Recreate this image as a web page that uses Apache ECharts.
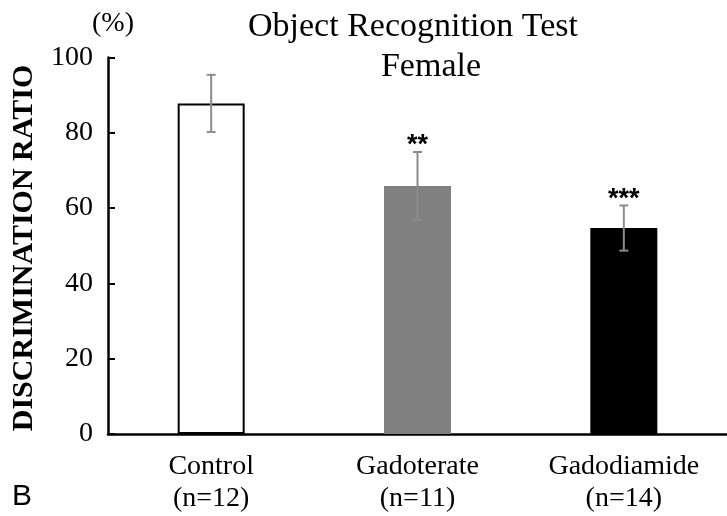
<!DOCTYPE html>
<html><head><meta charset="utf-8">
<script src="https://cdn.jsdelivr.net/npm/echarts@6/dist/echarts.min.js"></script>
<style>html,body{margin:0;padding:0;background:#fff}#c{width:727px;height:516px}</style>
</head><body><div id="c"></div>
<script>
var categories = ['Control', 'Gadoterate', 'Gadodiamide'];
var groupSizes = ['(n=12)', '(n=11)', '(n=14)'];
var means = [87.8, 65.9, 54.7];
var errors = [7.6, 9.0, 6.0];
var stars = ['', '**', '***'];
var yTicks = [0, 20, 40, 60, 80, 100];
var barColors = ['#ffffff', '#808080', '#000000'];

var serif = '"Liberation Serif", "Times New Roman", serif';
var chart = echarts.init(document.getElementById('c'));
var errData = categories.map(function (c, i) { return [i, means[i] - errors[i], means[i] + errors[i], stars[i]]; });

chart.setOption({
  animation: false,
  grid: { left: 108, width: 624, top: 57.5, bottom: 82 },
  xAxis: {
    type: 'category',
    data: categories.map(function (c, i) { return c + '\n' + groupSizes[i]; }),
    axisLine: { lineStyle: { color: '#000', width: 2.5 } },
    axisTick: { show: false },
    axisLabel: { color: '#000', fontFamily: serif, fontSize: 28, lineHeight: 32, margin: 17 }
  },
  yAxis: {
    type: 'value', min: yTicks[0], max: yTicks[yTicks.length - 1], interval: 20,
    axisLine: { show: true, lineStyle: { color: '#000', width: 2.5 } },
    axisTick: { show: true, inside: true, length: 7, lineStyle: { color: '#000', width: 2 } },
    splitLine: { show: false },
    axisLabel: { color: '#000', fontFamily: serif, fontSize: 28, margin: 15 }
  },
  series: [
    {
      type: 'bar', barWidth: 67,
      data: means.map(function (v, i) {
        return { value: v, itemStyle: { color: barColors[i], borderColor: '#000', borderWidth: i === 0 ? 2 : 0 } };
      })
    },
    {
      type: 'custom', data: errData, z: 5,
      renderItem: function (params, api) {
        var x = api.value(0);
        var lo = api.coord([x, api.value(1)]);
        var hi = api.coord([x, api.value(2)]);
        var cw = 4.5;
        var st = { stroke: '#8c8c8c', lineWidth: 2 };
        var children = [
          { type: 'line', shape: { x1: lo[0], y1: lo[1], x2: hi[0], y2: hi[1] }, style: st },
          { type: 'line', shape: { x1: lo[0] - cw, y1: lo[1], x2: lo[0] + cw, y2: lo[1] }, style: st },
          { type: 'line', shape: { x1: hi[0] - cw, y1: hi[1], x2: hi[0] + cw, y2: hi[1] }, style: st }
        ];
        var s = api.value(3);
        if (s) {
          children.push({ type: 'text', x: hi[0], y: hi[1] - 6,
            style: { text: s, fill: '#000', fontSize: 27, fontWeight: 'bold', fontFamily: '"Liberation Sans", Arial, sans-serif', align: 'center', verticalAlign: 'middle' } });
        }
        return { type: 'group', children: children };
      }
    }
  ],
  graphic: [
    { type: 'text', x: 413, y: 27, style: { text: 'Object Recognition Test', fill: '#000', fontFamily: serif, fontSize: 34, align: 'center', verticalAlign: 'middle' } },
    { type: 'text', x: 431, y: 67, style: { text: 'Female', fill: '#000', fontFamily: serif, fontSize: 34, align: 'center', verticalAlign: 'middle' } },
    { type: 'text', x: 113, y: 24, style: { text: '(%)', fill: '#000', fontFamily: serif, fontSize: 28, align: 'center', verticalAlign: 'middle' } },
    { type: 'text', x: 24, y: 248, rotation: Math.PI / 2, style: { text: 'DISCRIMINATION RATIO', fill: '#000', fontFamily: serif, fontWeight: 'bold', fontSize: 30, align: 'center', verticalAlign: 'middle' } },
    { type: 'text', x: 22, y: 497, style: { text: 'B', fill: '#000', fontFamily: '"Liberation Sans", Arial, sans-serif', fontSize: 30, align: 'center', verticalAlign: 'middle' } }
  ]
});
</script></body></html>
